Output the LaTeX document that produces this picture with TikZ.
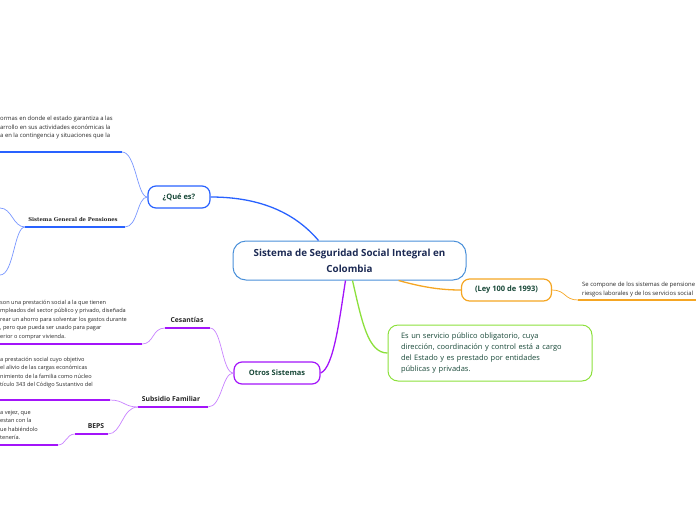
\documentclass[tikz,border=0pt]{standalone}
\usepackage{fontspec}
\setmainfont{Open Sans}
\newfontfamily\penfont{DejaVu Serif}
\usetikzlibrary{positioning}
\definecolor{rootblue}{RGB}{74,144,217}
\definecolor{navy}{RGB}{28,42,84}
\definecolor{deepgreen}{RGB}{24,72,56}
\definecolor{qblue}{RGB}{41,98,255}
\definecolor{qlight}{RGB}{120,150,255}
\definecolor{purp}{RGB}{163,20,250}
\definecolor{purplight}{RGB}{200,130,255}
\definecolor{orng}{RGB}{245,166,35}
\definecolor{lime}{RGB}{140,224,60}
\definecolor{txtgray}{RGB}{40,40,40}
\begin{document}
\begin{tikzpicture}[x=1pt,y=-1pt,
  mainbox/.style={draw=rootblue,line width=1pt,rounded corners=13pt,fill=white,
    minimum width=233pt,minimum height=39pt,align=center,text=navy,
    font=\fontsize{9.8}{16}\selectfont\bfseries},
  topic/.style={draw,line width=1.2pt,rounded corners=8pt,fill=white,text=deepgreen,
    minimum height=22pt,inner sep=0pt,font=\fontsize{7.5}{9}\selectfont\bfseries},
  sublbl/.style={text=black!85,inner sep=1pt,font=\fontsize{6.8}{8}\selectfont\bfseries},
  note/.style={text=txtgray,align=left,anchor=north west,inner sep=0pt,
    font=\fontsize{5.6}{8.5}\selectfont},
  link/.style={line width=0.7pt},
  bar/.style={line width=2.2pt},
  main/.style={line width=1.3pt}]
\useasboundingbox (0,0) rectangle (696,520);

% central topic and main branches
\node[mainbox] (root) at (349.5,260.5) {Sistema de Seguridad Social Integral en\\Colombia};
\node[topic,draw=qblue,minimum width=62pt] (que) at (179,197) {¿Qué es?};
\node[topic,draw=purp,minimum width=86pt] (otros) at (277,373) {Otros Sistemas};
\node[topic,draw=orng,minimum width=90pt] (ley) at (506.5,290) {(Ley 100 de 1993)};
\node[draw=lime,line width=1pt,rounded corners=10pt,text width=178pt,inner xsep=13pt,
  minimum height=56pt,text=deepgreen,align=left,font=\fontsize{7.5}{11.3}\selectfont]
  (defn) at (490,353) {Es un servicio público obligatorio, cuya\\dirección, coordinación y control está a cargo\\del Estado y es prestado por entidades\\públicas y privadas.};

\draw[qblue,main] (que.east) .. controls (262,197) and (296,214) .. ([xshift=-31pt]root.north);
\draw[purp,main] ([xshift=-4pt]root.south) .. controls (340,315) and (334,368) .. (otros.east);
\draw[lime,main] ([xshift=3pt]root.south) .. controls (362,322) and (368,353) .. (defn.west);
\draw[orng,main] ([xshift=49pt]root.south) .. controls (422,287) and (440,290) .. (ley.west);

% ¿Qué es?
\node[note,font=\fontsize{5.9}{8.5}\selectfont] (qnote) at (0,116) {ormas en donde el estado garantiza a las\\arrollo en sus actividades económicas la\\a en la contingencia y situaciones que la};
\coordinate (qbar) at (122,152);
\draw[qlight,link] (que.west) .. controls (137,197) and (136,152) .. (qbar);
\draw[qblue,bar] (qbar) -- (qbar -| qnote.west);

\node[inner sep=1pt,text=black!85,font=\penfont\fontsize{5.3}{6}\selectfont\bfseries] (pen) at (73,220) {Sistema General de Pensiones};
\coordinate (penL) at (25,227);
\coordinate (penR) at (125,227);
\coordinate (penUp) at (0,208);
\coordinate (penDown) at (0,275);
\draw[qlight,link] (que.west) .. controls (137,197) and (138,227) .. (penR);
\draw[qblue,bar] (penL) -- (penR);
\draw[qlight,link] (penL) .. controls (13,227) and (12,208) .. (penUp);
\draw[qlight,link] (penL) .. controls (14,227) and (14,275) .. (penDown);

% Otros Sistemas
\node[sublbl] (ces) at (187,320) {Cesantías};
\coordinate (cesL) at (165,328);
\coordinate (cesR) at (210,328);
\coordinate (cesbar) at (142,344);
\node[note] (cesnote) at (0,300) {son una prestación social a la que tienen\\mpleados del sector público y privado, diseñada\\rear un ahorro para solventar los gastos durante\\, pero que pueda ser usado para pagar\\erior o comprar vivienda.};
\draw[purplight,link] (otros.west) .. controls (222,373) and (222,328) .. (cesR);
\draw[purp,bar] (cesL) -- (cesR);
\draw[purplight,link] (cesL) .. controls (152,328) and (154,344) .. (cesbar);
\draw[purp,bar] (cesbar) -- (cesbar -| cesnote.west);

\node[sublbl] (subs) at (171,399) {Subsidio Familiar};
\coordinate (subsL) at (138,407);
\coordinate (subsR) at (208,407);
\coordinate (subsbar) at (110,400);
\node[note] (subsnote) at (0,357) {a prestación social cuyo objetivo\\el alivio de las cargas económicas\\nimiento de la familia como núcleo\\tículo 343 del Código Sustantivo del};
\draw[purplight,link] (otros.west) .. controls (222,373) and (222,407) .. (subsR);
\draw[purp,bar] (subsL) -- (subsR);
\draw[purplight,link] (subsL) .. controls (124,407) and (124,400) .. (subsbar);
\draw[purp,bar] (subsbar) -- (subsbar -| subsnote.west);

\node[sublbl] (beps) at (96,426) {BEPS};
\coordinate (bepsL) at (75,434);
\coordinate (bepsR) at (108,434);
\coordinate (bepsbar) at (58,445);
\node[note] (bepsnote) at (0,410) {a vejez, que\\estan con la\\ue habiéndolo\\tenería.};
\draw[purplight,link] (subsL) .. controls (122,407) and (122,434) .. (bepsR);
\draw[purp,bar] (bepsL) -- (bepsR);
\draw[purplight,link] (bepsL) .. controls (66,434) and (66,445) .. (bepsbar);
\draw[purp,bar] (bepsbar) -- (bepsbar -| bepsnote.west);

% (Ley 100 de 1993)
\node[note,font=\fontsize{5.9}{8.5}\selectfont] (leynote) at (582,282) {Se compone de los sistemas de pensione\\riesgos laborales y de los servicios social};
\coordinate (leybar) at (578,300);
\draw[orng,link] (ley.east) .. controls (566,290) and (564,300) .. (leybar);
\draw[orng,bar] (leybar) -- ++(118,0);
\end{tikzpicture}
\end{document}
